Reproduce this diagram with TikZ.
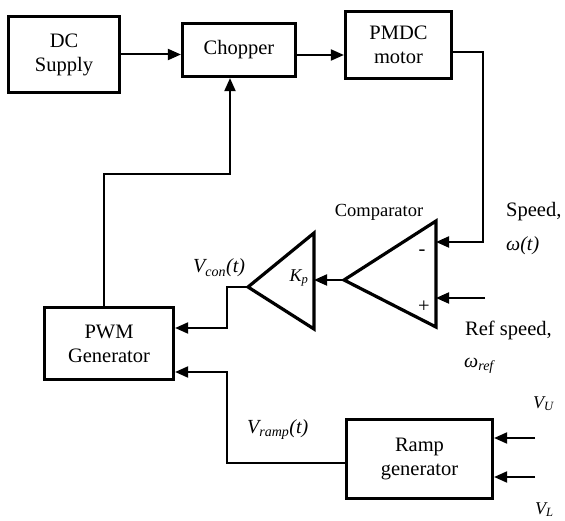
\documentclass[tikz,border=0pt]{standalone}
\usepackage{fontspec}
\setmainfont{Liberation Serif}
\usetikzlibrary{arrows.meta, positioning}

\begin{document}
\begin{tikzpicture}[
  x=1pt, y=-1pt,
  box/.style={rectangle, draw, line width=3.2pt, align=center, inner sep=0pt, font=\fontsize{20.5}{24}\selectfont},
  arrow/.style={-{Triangle[length=13pt, width=11pt]}, line width=2pt},
  amp/.style={line width=3.2pt, line join=miter},
  lbl/.style={inner sep=0pt, font=\fontsize{20.5}{24}\selectfont},
  sym/.style={inner sep=0pt, font=\itshape\fontsize{20}{24}\selectfont}
]
  \useasboundingbox (0,0) rectangle (565,521);

  % Power path
  \node[box, minimum width=111pt, minimum height=76pt] (dc) at (64,54.5) {DC\\Supply};
  \node[box, minimum width=113pt, minimum height=53pt] (chopper) at (239,50) {Chopper};
  \node[box, minimum width=106pt, minimum height=67pt] (pmdc) at (398.5,45) {PMDC\\motor};

  \draw[arrow] (dc.east) -- (dc.east -| chopper.west);
  \draw[arrow] ([yshift=-5pt]chopper.east) -- ([yshift=-5pt]chopper.east -| pmdc.west);

  % Control blocks
  \node[box, minimum width=129pt, minimum height=72pt] (pwm) at (109,343.5) {PWM\\Generator};
  \node[box, minimum width=146pt, minimum height=79pt] (ramp) at (419.5,459) {Ramp\\generator};

  % Comparator and gain
  \coordinate (cmp-top) at (436,221);
  \coordinate (cmp-bot) at (436,327);
  \coordinate (cmp-out) at (344,280);
  \coordinate (cmp-minus) at (436,242);
  \coordinate (cmp-plus) at (436,298);
  \draw[amp] (cmp-top) -- (cmp-bot) -- (cmp-out) -- cycle;

  \coordinate (kp-top) at (314,233);
  \coordinate (kp-bot) at (314,329);
  \coordinate (kp-out) at (248,287);
  \coordinate (kp-in) at (314,280);
  \draw[amp] (kp-top) -- (kp-bot) -- (kp-out) -- cycle;

  \node[lbl, font=\fontsize{18.5}{22}\selectfont] (cmplbl) at (379,212) {Comparator};
  \node[lbl] (minus) at (422,253) {-};
  \node[lbl] (plus) at (424,307) {+};
  \node[sym, font=\itshape\fontsize{18}{20}\selectfont] (kplbl) at (299,278) {K\textsubscript{p}};

  % Signals
  \coordinate (fb) at (483,242);
  \coordinate (ref-in) at (485,298);
  \coordinate (vu-in) at (535,438);
  \coordinate (vl-in) at (535,477);

  \draw[arrow] ([yshift=-7pt]pmdc.east) -| (fb) -- (cmp-minus);
  \draw[arrow] (ref-in) -- (cmp-plus);
  \draw[arrow] (cmp-out) -- (kp-in);
  \draw[arrow] (kp-out) -- ++(-21,0) |- ([yshift=15.5pt]pwm.east);
  \draw[arrow] ([xshift=-5pt]pwm.north) -- ++(0,-131.5) -| ([xshift=-9pt]chopper.south);
  \draw[arrow] ([yshift=-4pt]ramp.west) -- (227,463) |- ([yshift=-28.5pt]pwm.east);
  \draw[arrow] (vu-in) -- (vu-in -| ramp.east);
  \draw[arrow] (vl-in) -- (vl-in -| ramp.east);

  % Labels
  \node[lbl, anchor=base west] (speed) at (506,217) {Speed,};
  \node[sym, anchor=base west] (omega) at (506,251) {ω(t)};
  \node[lbl, anchor=base west] (refspeed) at (465,336) {Ref speed,};
  \node[sym, anchor=base west] (omegaref) at (464,367) {ω\textsubscript{ref}};
  \node[sym, anchor=base west] (vcon) at (193,273) {V\textsubscript{con}(t)};
  \node[sym, anchor=base west] (vramp) at (247,433) {V\textsubscript{ramp}(t)};
  \node[sym, anchor=base west, font=\itshape\fontsize{18}{22}\selectfont] (vu) at (533,408) {V\textsubscript{U}};
  \node[sym, anchor=base west, font=\itshape\fontsize{18}{22}\selectfont] (vl) at (535,514) {V\textsubscript{L}};
\end{tikzpicture}
\end{document}
